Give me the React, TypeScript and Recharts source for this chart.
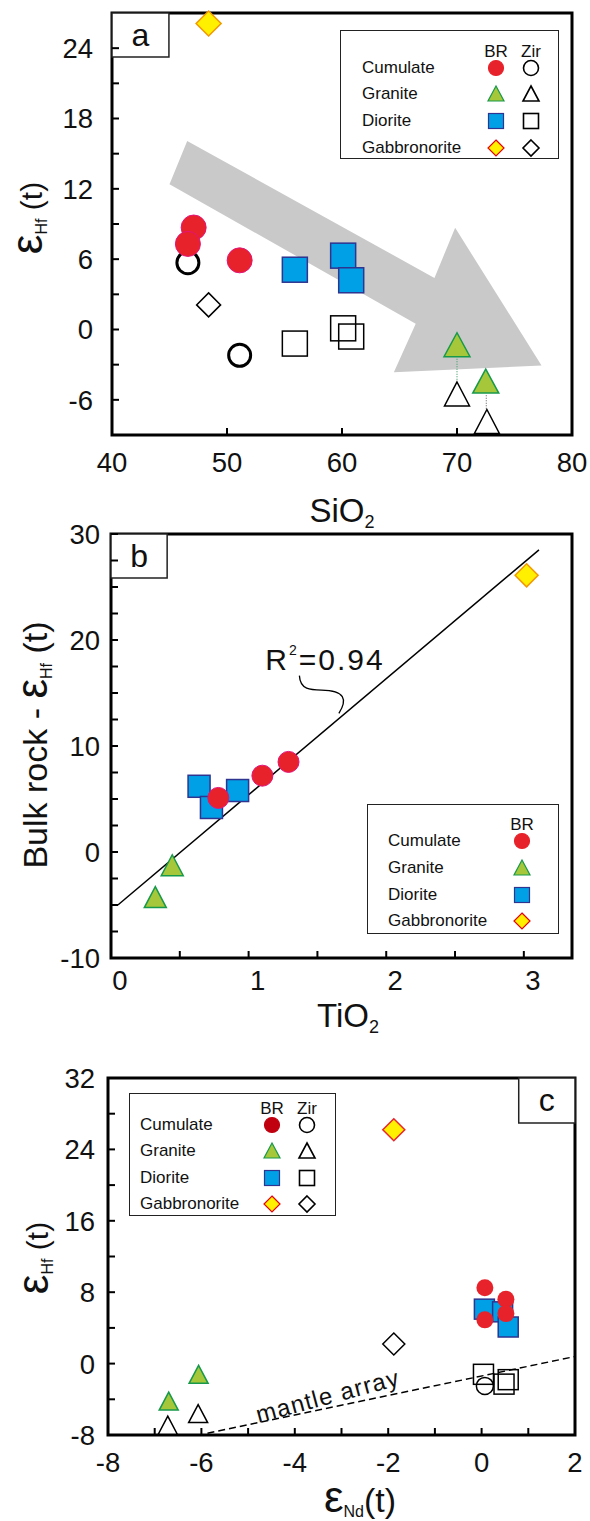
import React from 'react'
import {
  Legend,
  ReferenceArea,
  ReferenceDot,
  ReferenceLine,
  Scatter,
  ScatterChart,
  XAxis,
  YAxis,
} from 'recharts'

type Pt = { x: number; y: number }

// ---- panel a: SiO2 vs eHf(t)
const cumulateBrA: Pt[] = [{ x: 47.1, y: 8.7 }, { x: 46.6, y: 7.3 }, { x: 51.1, y: 5.9 }]
const cumulateZirA: Pt[] = [{ x: 46.6, y: 5.7 }, { x: 51.1, y: -2.2 }]
const graniteBrA: Pt[] = [{ x: 70.0, y: -1.3 }, { x: 72.5, y: -4.4 }]
const graniteZirA: Pt[] = [{ x: 70.0, y: -5.5 }, { x: 72.6, y: -7.85 }]
const dioriteBrA: Pt[] = [{ x: 55.9, y: 5.1 }, { x: 60.1, y: 6.3 }, { x: 60.8, y: 4.2 }]
const dioriteZirA: Pt[] = [{ x: 55.9, y: -1.2 }, { x: 60.1, y: 0.1 }, { x: 60.8, y: -0.6 }]
const gabbroBrA: Pt[] = [{ x: 48.4, y: 26.1 }]
const gabbroZirA: Pt[] = [{ x: 48.4, y: 2.1 }]
// grey trend arrow outline (data units)
const trendArrow: Pt[] = [
  { x: 46.54, y: 16.08 }, { x: 68.04, y: 4.4 }, { x: 69.84, y: 8.67 }, { x: 77.35, y: -3.07 },
  { x: 64.51, y: -3.64 }, { x: 66.41, y: 0.5 }, { x: 45.0, y: 12.4 },
]
const graniteLinksA: Pt[][] = [
  [{ x: 70.0, y: -2.5 }, { x: 70.0, y: -4.4 }],
  [{ x: 72.55, y: -5.6 }, { x: 72.55, y: -6.8 }],
]
const xTicksA = [40, 50, 60, 70, 80]
const yTicksA = [-6, -3, 0, 3, 6, 9, 12, 15, 18, 21, 24]
const yLabelsA = [-6, 0, 6, 12, 18, 24]

// ---- panel b: TiO2 vs bulk rock eHf(t)
const cumulateB: Pt[] = [{ x: 1.29, y: 8.5 }, { x: 1.1, y: 7.2 }, { x: 0.78, y: 5.1 }]
const graniteB: Pt[] = [{ x: 0.445, y: -1.25 }, { x: 0.322, y: -4.25 }]
const dioriteB: Pt[] = [{ x: 0.64, y: 6.2 }, { x: 0.92, y: 5.8 }, { x: 0.73, y: 4.2 }]
const gabbroB: Pt[] = [{ x: 3.02, y: 26.1 }]
const regressionB: Pt[] = [{ x: 0.05, y: -5.0 }, { x: 3.11, y: 28.5 }]
const r2Leader: Pt[] = [
  { x: 1.369, y: 16.64 }, { x: 1.375, y: 15.3 }, { x: 1.45, y: 15.28 }, { x: 1.53, y: 15.28 },
  { x: 1.7, y: 15.25 }, { x: 1.72, y: 14.4 }, { x: 1.656, y: 13.08 },
]
const xTicksB = [0, 0.5, 1, 1.5, 2, 2.5, 3]
const xLabelsB = [0, 1, 2, 3]
const yTicksB = [-10, -7.5, -5, -2.5, 0, 2.5, 5, 7.5, 10, 12.5, 15, 17.5, 20, 22.5, 25, 27.5, 30]
const yLabelsB = [-10, 0, 10, 20, 30]

// ---- panel c: eNd(t) vs eHf(t)
const cumulateBrC: Pt[] = [{ x: 0.07, y: 8.5 }, { x: 0.52, y: 7.2 }, { x: 0.52, y: 5.6 }, { x: 0.07, y: 4.9 }]
const cumulateZirC: Pt[] = [{ x: 0.07, y: -2.5 }]
const graniteBrC: Pt[] = [{ x: -6.7, y: -4.2 }, { x: -6.06, y: -1.2 }]
const graniteZirC: Pt[] = [{ x: -6.72, y: -6.9 }, { x: -6.07, y: -5.6 }]
const dioriteBrC: Pt[] = [{ x: 0.06, y: 6.1 }, { x: 0.45, y: 5.8 }, { x: 0.57, y: 4.1 }]
const dioriteZirC: Pt[] = [{ x: 0.04, y: -1.2 }, { x: 0.48, y: -2.3 }, { x: 0.57, y: -1.8 }]
const gabbroBrC: Pt[] = [{ x: -1.88, y: 26.2 }]
const gabbroZirC: Pt[] = [{ x: -1.88, y: 2.2 }]
const mantleArray: Pt[] = [{ x: -5.87, y: -7.8 }, { x: 2.0, y: 0.8 }]
const xTicksC = [-8, -7, -6, -5, -4, -3, -2, -1, 0, 1, 2]
const xLabelsC = [-8, -6, -4, -2, 0, 2]
const yTicksC = [-8, -4, 0, 4, 8, 12, 16, 20, 24, 28, 32]
const yLabelsC = [-8, 0, 8, 16, 24, 32]

const rockTypes = ['Cumulate', 'Granite', 'Diorite', 'Gabbronorite']

const FONT = 'Arial, "Liberation Sans", Helvetica, sans-serif'
const RED = '#e7222a'
const RED_RIM = '#e4137a'
const DARK_RED = '#c0000f'
const GREEN = '#a5c739'
const GREEN_RIM = '#17994b'
const BLUE = '#00a0e6'
const BLUE_RIM = '#2e3490'
const YELLOW = '#fff000'
const ORANGE = '#f39800'

// ---- marker shapes
const circle = (r: number, fill: string, stroke: string, sw: number) => (p: any) =>
  <circle cx={p.cx} cy={p.cy} r={r} fill={fill} stroke={stroke} strokeWidth={sw} />
const square = (s: number, fill: string, stroke: string, sw: number) => (p: any) =>
  <rect x={p.cx - s / 2} y={p.cy - s / 2} width={s} height={s} fill={fill} stroke={stroke} strokeWidth={sw} />
const triangle = (w: number, h: number, fill: string, stroke: string, sw: number) => (p: any) =>
  <polygon
    points={`${p.cx},${p.cy - h / 2} ${p.cx + w / 2},${p.cy + h / 2} ${p.cx - w / 2},${p.cy + h / 2}`}
    fill={fill} stroke={stroke} strokeWidth={sw} strokeLinejoin="miter"
  />
const diamond = (r: number, fill: string, stroke: string, sw: number) => (p: any) =>
  <polygon
    points={`${p.cx},${p.cy - r} ${p.cx + r},${p.cy} ${p.cx},${p.cy + r} ${p.cx - r},${p.cy}`}
    fill={fill} stroke={stroke} strokeWidth={sw}
  />

// maps a list of data points into the pixel box of a ReferenceArea
const inBox = (pts: Pt[], x1: number, x2: number, y1: number, y2: number, r: any) =>
  pts.map((p) => [r.x + ((p.x - x1) / (x2 - x1)) * r.width, r.y + ((y2 - p.y) / (y2 - y1)) * r.height])

const bbox = (pts: Pt[]) => ({
  x1: Math.min(...pts.map((p) => p.x)),
  x2: Math.max(...pts.map((p) => p.x)),
  y1: Math.min(...pts.map((p) => p.y)),
  y2: Math.max(...pts.map((p) => p.y)),
})

const tickFont = { fontFamily: FONT, fontSize: 27.5, fill: '#111' }

const yTick = (labels: number[]) => (p: any) =>
  labels.includes(p.payload.value) ? (
    <text x={p.x} y={p.y} dy="0.36em" textAnchor="end" {...tickFont}>{p.payload.value}</text>
  ) : <g />

const xTick = (labels: number[], shift = 0) => (p: any) =>
  labels.includes(p.payload.value) ? (
    <text x={p.x + shift} y={p.y} dy="0.36em" textAnchor="middle" {...tickFont}>{p.payload.value}</text>
  ) : <g />

// ---- legend
type Kind = 'circle' | 'triangle' | 'square' | 'diamond'
function Icon({ kind, fill, stroke, sw = 1.2, cx, cy }: { kind: Kind; fill: string; stroke: string; sw?: number; cx: number; cy: number }) {
  const s = 15
  const c = 10
  let el: React.ReactNode = null
  if (kind === 'circle') el = <circle cx={c} cy={c} r={s / 2} fill={fill} stroke={stroke} strokeWidth={sw} />
  if (kind === 'square') el = <rect x={c - s / 2} y={c - s / 2} width={s} height={s} fill={fill} stroke={stroke} strokeWidth={sw} />
  if (kind === 'triangle') el = <polygon points={`${c},${c - 8} ${c + 8},${c + 7} ${c - 8},${c + 7}`} fill={fill} stroke={stroke} strokeWidth={sw} />
  if (kind === 'diamond') el = <polygon points={`${c},${c - 8} ${c + 8},${c} ${c},${c + 8} ${c - 8},${c}`} fill={fill} stroke={stroke} strokeWidth={sw} />
  return (
    <svg width={20} height={20} style={{ position: 'absolute', left: cx - 10, top: cy - 10 }}>{el}</svg>
  )
}

const kinds: Kind[] = ['circle', 'triangle', 'square', 'diamond']

function LegendBox(props: {
  w: number; h: number; textLeft: number; brX: number; zirX?: number; headY: number; rowYs: number[]
  brFills: string[]; brRims: string[]
}) {
  const { w, h, textLeft, brX, zirX, headY, rowYs, brFills, brRims } = props
  const txt = { position: 'absolute' as const, fontFamily: FONT, fontSize: 17, lineHeight: '20px', color: '#111', whiteSpace: 'nowrap' as const }
  return (
    <div style={{ position: 'relative', width: w, height: h, border: '1.5px solid #222', background: '#fff', boxSizing: 'border-box' }}>
      <div style={{ ...txt, left: brX - 20, width: 40, textAlign: 'center', top: headY - 10 }}>BR</div>
      {zirX !== undefined && (
        <div style={{ ...txt, left: zirX - 20, width: 40, textAlign: 'center', top: headY - 10 }}>Zir</div>
      )}
      {rockTypes.map((name, i) => (
        <React.Fragment key={name}>
          <div style={{ ...txt, left: textLeft, top: rowYs[i] - 10 }}>{name}</div>
          <Icon kind={kinds[i]} fill={brFills[i]} stroke={brRims[i]} cx={brX} cy={rowYs[i]} />
          {zirX !== undefined && (
            <Icon kind={kinds[i]} fill="none" stroke="#000" sw={1.6} cx={zirX} cy={rowYs[i]} />
          )}
        </React.Fragment>
      ))}
    </div>
  )
}

const axisCommon = { axisLine: false, tickSize: -7, tickLine: { stroke: '#000', strokeWidth: 2 } }

function PanelLabel({ viewBox, text }: any) {
  return (
    <text x={viewBox.x + viewBox.width / 2} y={viewBox.y + viewBox.height / 2} dy="0.33em"
      textAnchor="middle" fontFamily={FONT} fontSize={32} fill="#111">{text}</text>
  )
}

function ChartA() {
  const b = bbox(trendArrow)
  return (
    <ScatterChart width={590} height={500} margin={{ top: 13, right: 18, bottom: 25, left: 0 }}>
      <XAxis type="number" dataKey="x" domain={[40, 80]} ticks={xTicksA} height={40} tickMargin={34}
        tick={xTick(xTicksA)} {...axisCommon} />
      <YAxis type="number" dataKey="y" domain={[-9, 27]} ticks={yTicksA} width={112} tickMargin={26}
        tick={yTick(yLabelsA)} {...axisCommon} />
      <ReferenceArea x1={b.x1} x2={b.x2} y1={b.y1} y2={b.y2} ifOverflow="visible"
        shape={(r: any) => (
          <polygon points={inBox(trendArrow, b.x1, b.x2, b.y1, b.y2, r).map((q) => q.join(',')).join(' ')} fill="#c9c9c9" />
        )} />
      {graniteLinksA.map((seg, i) => (
        <ReferenceLine key={i} segment={seg} stroke={i === 0 ? '#4aa070' : '#777'} strokeWidth={1.2} strokeDasharray="1 1.5" />
      ))}
      <Scatter data={gabbroZirA} shape={diamond(12, '#fff', '#000', 1.5)} isAnimationActive={false} />
      <Scatter data={dioriteZirA} shape={square(25, 'none', '#000', 1.5)} isAnimationActive={false} />
      <Scatter data={graniteZirA} shape={triangle(25, 24, '#fff', '#000', 1.5)} isAnimationActive={false} />
      <Scatter data={cumulateZirA} shape={circle(11, 'none', '#000', 3)} isAnimationActive={false} />
      <Scatter data={cumulateBrA} shape={circle(12.5, RED, RED_RIM, 1)} isAnimationActive={false} />
      <Scatter data={dioriteBrA} shape={square(25, BLUE, BLUE_RIM, 1.5)} isAnimationActive={false} />
      <Scatter data={graniteBrA} shape={triangle(26, 24, GREEN, GREEN_RIM, 1.5)} isAnimationActive={false} />
      <Scatter data={gabbroBrA} shape={diamond(12.5, YELLOW, ORANGE, 1.5)} isAnimationActive={false} />
      <ReferenceArea x1={40} x2={80} y1={-9} y2={27} fill="none" stroke="#000" strokeWidth={3} fillOpacity={0} />
      <ReferenceArea x1={40} x2={44.95} y1={23.25} y2={27} fill="#fff" fillOpacity={1} stroke="#222" strokeWidth={1.5}
        label={(p: any) => <PanelLabel {...p} text="a" />} />
      <Legend layout="vertical" align="center" verticalAlign="middle"
        wrapperStyle={{ left: 340, top: 30, width: 219, height: 129 }}
        content={() => (
          <LegendBox w={219} h={129} textLeft={21} brX={155} zirX={190} headY={21} rowYs={[37, 63, 90, 117]}
            brFills={[RED, GREEN, BLUE, YELLOW]} brRims={[RED, GREEN_RIM, BLUE_RIM, '#e60012']} />
        )} />
    </ScatterChart>
  )
}

function ChartB() {
  const b = bbox(r2Leader)
  return (
    <ScatterChart width={590} height={520} margin={{ top: 34, right: 18, bottom: 22, left: 0 }}>
      <XAxis type="number" dataKey="x" domain={[0, 3.35]} ticks={xTicksB} height={40} tickMargin={29}
        tick={xTick(xLabelsB, 9)} {...axisCommon} />
      <YAxis type="number" dataKey="y" domain={[-10, 30]} ticks={yTicksB} width={111} tickMargin={18}
        tick={yTick(yLabelsB)} {...axisCommon} />
      <ReferenceLine segment={regressionB} stroke="#000" strokeWidth={1.5} />
      <ReferenceArea x1={b.x1} x2={b.x2} y1={b.y1} y2={b.y2} ifOverflow="visible"
        shape={(r: any) => {
          const q = inBox(r2Leader, b.x1, b.x2, b.y1, b.y2, r)
          const d = `M${q[0]} C${q[1]} ${q[2]} ${q[3]} C${q[4]} ${q[5]} ${q[6]}`
          return <path d={d} fill="none" stroke="#000" strokeWidth={1.3} />
        }} />
      <ReferenceDot x={1.555} y={17.2} ifOverflow="visible"
        shape={(p: any) => (
          <text x={p.cx} y={p.cy} textAnchor="middle" fontFamily={FONT} fontSize={30} fill="#111" letterSpacing={2}>
            R<tspan fontSize={14} dy={-15}>2</tspan><tspan dy={15}>=0.94</tspan>
          </text>
        )} />
      <Scatter data={dioriteB} shape={square(22, BLUE, BLUE_RIM, 1.5)} isAnimationActive={false} />
      <Scatter data={cumulateB} shape={circle(10.5, RED, RED_RIM, 1)} isAnimationActive={false} />
      <Scatter data={graniteB} shape={triangle(22, 21, GREEN, GREEN_RIM, 1.5)} isAnimationActive={false} />
      <Scatter data={gabbroB} shape={diamond(11.5, YELLOW, ORANGE, 1.5)} isAnimationActive={false} />
      <ReferenceArea x1={0} x2={3.35} y1={-10} y2={30} fill="none" stroke="#000" strokeWidth={3} fillOpacity={0} />
      <ReferenceArea x1={0} x2={0.408} y1={25.85} y2={30} fill="#fff" fillOpacity={1} stroke="#222" strokeWidth={1.5}
        label={(p: any) => <PanelLabel {...p} text="b" />} />
      <Legend layout="vertical" align="center" verticalAlign="middle"
        wrapperStyle={{ left: 367, top: 304, width: 192, height: 130 }}
        content={() => (
          <LegendBox w={192} h={130} textLeft={20} brX={154} headY={20} rowYs={[36, 63, 90, 116]}
            brFills={[RED, GREEN, BLUE, YELLOW]} brRims={[RED, GREEN_RIM, BLUE_RIM, '#e60012']} />
        )} />
    </ScatterChart>
  )
}

function ChartC() {
  return (
    <ScatterChart width={590} height={481} margin={{ top: 38, right: 15, bottom: 46, left: 0 }}>
      <XAxis type="number" dataKey="x" domain={[-8, 2]} ticks={xTicksC} height={40} tickMargin={34}
        tick={xTick(xLabelsC)} {...axisCommon} />
      <YAxis type="number" dataKey="y" domain={[-8, 32]} ticks={yTicksC} width={108} tickMargin={20}
        tick={yTick(yLabelsC)} {...axisCommon} />
      <ReferenceLine segment={mantleArray} stroke="#000" strokeWidth={1.4} strokeDasharray="7 4" />
      <ReferenceDot x={-3.29} y={-3.73} ifOverflow="visible"
        shape={(p: any) => (
          <text x={p.cx} y={p.cy} dy="0.3em" textAnchor="middle" transform={`rotate(-15 ${p.cx} ${p.cy})`}
            fontFamily={FONT} fontSize={24} letterSpacing={1.2} fill="#111">mantle array</text>
        )} />
      <Scatter data={gabbroZirC} shape={diamond(11, '#fff', '#000', 1.5)} isAnimationActive={false} />
      <Scatter data={cumulateZirC} shape={circle(8.5, 'none', '#000', 1.5)} isAnimationActive={false} />
      <Scatter data={dioriteZirC} shape={square(20, 'none', '#000', 1.5)} isAnimationActive={false} />
      <Scatter data={graniteZirC} shape={triangle(19, 18, '#fff', '#000', 1.5)} isAnimationActive={false} />
      <Scatter data={dioriteBrC} shape={square(20, BLUE, BLUE_RIM, 1.5)} isAnimationActive={false} />
      <Scatter data={cumulateBrC} shape={circle(8.5, RED, RED, 0)} isAnimationActive={false} />
      <Scatter data={graniteBrC} shape={triangle(19, 18, GREEN, GREEN_RIM, 1.5)} isAnimationActive={false} />
      <Scatter data={gabbroBrC} shape={diamond(11, YELLOW, '#e8262d', 1.5)} isAnimationActive={false} />
      <ReferenceArea x1={-8} x2={2} y1={-8} y2={32} fill="none" stroke="#000" strokeWidth={3} fillOpacity={0} />
      <ReferenceArea x1={0.795} x2={2} y1={26.95} y2={32} fill="#fff" fillOpacity={1} stroke="#222" strokeWidth={1.5}
        label={(p: any) => <PanelLabel {...p} text="c" />} />
      <Legend layout="vertical" align="center" verticalAlign="middle"
        wrapperStyle={{ left: 129, top: 53, width: 207, height: 123 }}
        content={() => (
          <LegendBox w={207} h={123} textLeft={10} brX={142} zirX={177} headY={15} rowYs={[31, 57, 84, 110]}
            brFills={[DARK_RED, GREEN, BLUE, YELLOW]} brRims={[DARK_RED, GREEN_RIM, BLUE_RIM, '#e60012']} />
        )} />
    </ScatterChart>
  )
}

function Titles() {
  const t = { fontFamily: FONT, fill: '#111' }
  return (
    <svg width={590} height={1521} style={{ position: 'absolute', left: 0, top: 0, pointerEvents: 'none' }}>
      <text x={42} y={218} textAnchor="middle" transform="rotate(-90 42 218)" {...t}>
        <tspan fontSize={44}>ε</tspan><tspan fontSize={16} dy={5}>Hf</tspan><tspan fontSize={30} dy={-5}> (t)</tspan>
      </text>
      <text x={342} y={522} textAnchor="middle" fontSize={33} {...t}>
        SiO<tspan fontSize={18} dy={6}>2</tspan>
      </text>
      <text x={47} y={745} textAnchor="middle" transform="rotate(-90 47 745)" {...t}>
        <tspan fontSize={34}>Bulk rock - </tspan><tspan fontSize={44}>ε</tspan>
        <tspan fontSize={16} dy={5}>Hf</tspan><tspan fontSize={34} dy={-5}> (t)</tspan>
      </text>
      <text x={348} y={1027} textAnchor="middle" fontSize={33} {...t}>
        TiO<tspan fontSize={18} dy={6}>2</tspan>
      </text>
      <text x={48} y={1258} textAnchor="middle" transform="rotate(-90 48 1258)" {...t}>
        <tspan fontSize={44}>ε</tspan><tspan fontSize={16} dy={5}>Hf</tspan><tspan fontSize={30} dy={-5}> (t)</tspan>
      </text>
      <text x={360} y={1512} textAnchor="middle" {...t}>
        <tspan fontSize={44}>ε</tspan><tspan fontSize={16} dy={5}>Nd</tspan><tspan fontSize={34} dy={-5}>(t)</tspan>
      </text>
    </svg>
  )
}

export default function App() {
  return (
    <div style={{ position: 'absolute', left: 0, top: 0, width: 590, height: 1521, background: '#fff', overflow: 'hidden' }}>
      <div style={{ position: 'absolute', left: 0, top: 0 }}><ChartA /></div>
      <div style={{ position: 'absolute', left: 0, top: 500 }}><ChartB /></div>
      <div style={{ position: 'absolute', left: 0, top: 1040 }}><ChartC /></div>
      <Titles />
    </div>
  )
}
